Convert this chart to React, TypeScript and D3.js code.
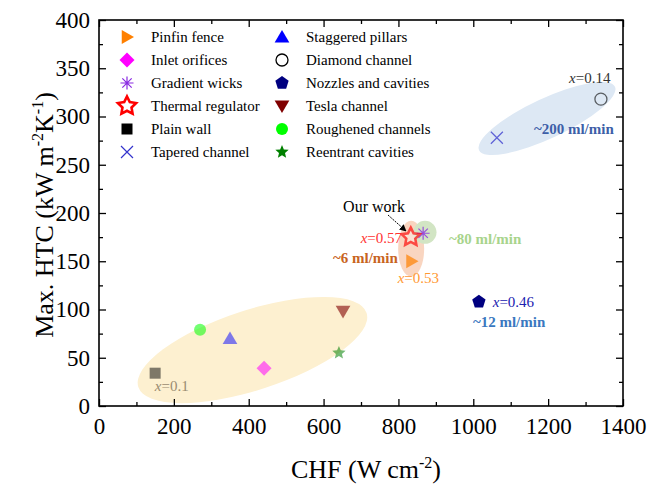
import React, { useRef, useEffect } from 'react';
import * as d3 from 'd3';

// series, in legend order (column 1 then column 2)
const seriesNames = [
  'Pinfin fence', 'Inlet orifices', 'Gradient wicks', 'Thermal regulator', 'Plain wall', 'Tapered channel',
  'Staggered pillars', 'Diamond channel', 'Nozzles and cavities', 'Tesla channel', 'Roughened channels', 'Reentrant cavities',
];
const chfValues = [835, 441, 866, 833, 150, 1063, 350, 1341, 1015, 652, 270, 641];
const htcValues = [150, 39, 179, 175, 34, 278, 70, 318, 108, 98, 79, 55];

const xTicks = [0, 200, 400, 600, 800, 1000, 1200, 1400];
const yTicks = [0, 50, 100, 150, 200, 250, 300, 350, 400];

// group shading (centre in data units)
const groupCx = [410, 1197, 834, 871];
const groupCy = [58, 298, 163, 180];

// annotation texts, anchor in data units (left edge, baseline)
const noteTexts = ['x=0.57', '~6 ml/min', 'x=0.53', '~80 ml/min', 'x=0.14', '~200 ml/min', 'x=0.46', '~12 ml/min', 'x=0.1'];
const noteX = [699, 625, 798, 935, 1256, 1162, 1052, 999, 149];
const noteY = [169, 148, 127, 168, 335, 282, 103, 82, 16];

const markerStyle = {
  'Pinfin fence': { type: 'triRight', color: '#ff8000', s: 7, op: 0.7 },
  'Inlet orifices': { type: 'diamond', color: '#ff00ff', s: 7.5, op: 0.55 },
  'Gradient wicks': { type: 'asterisk', color: '#8a2be2', s: 6.5, op: 0.8 },
  'Thermal regulator': { type: 'starOpen', color: '#ff0000', s: 9.5, op: 0.65 },
  'Plain wall': { type: 'square', color: '#000000', s: 5.5, op: 0.5 },
  'Tapered channel': { type: 'cross', color: '#3333cc', s: 6, op: 0.75 },
  'Staggered pillars': { type: 'triUp', color: '#0000ff', s: 7, op: 0.5 },
  'Diamond channel': { type: 'circleOpen', color: '#000000', s: 6, op: 0.6 },
  'Nozzles and cavities': { type: 'pentagon', color: '#000080', s: 7, op: 1 },
  'Tesla channel': { type: 'triDown', color: '#800000', s: 7, op: 0.6 },
  'Roughened channels': { type: 'circle', color: '#00ff00', s: 6, op: 0.55 },
  'Reentrant cavities': { type: 'star', color: '#008000', s: 7, op: 0.55 },
};
const groupStyle = [
  { rx: 120, ry: 40, angle: -18, fill: '#fdf0d0' },
  { rx: 75, ry: 20, angle: -25, fill: '#dde8f4' },
  { rx: 13, ry: 28, angle: 0, fill: '#f9d5c0' },
  { rx: 11.5, ry: 11.5, angle: 0, fill: '#d2e5c4' },
];
const noteColors = ['#ff3333', '#c8641e', '#ff9933', '#a8d48c', '#333333', '#3d5fa8', '#2020b0', '#3a78c0', '#9a8c70'];
const noteBold = [false, true, false, true, false, true, false, true, false];

const W = 649, H = 486;
const font = '"Liberation Serif", "Times New Roman", serif';

function polyPath(n, r, inner) {
  const pts = [];
  const k = inner ? n * 2 : n;
  for (let i = 0; i < k; i++) {
    const a = -Math.PI / 2 + (i * 2 * Math.PI) / k;
    const rr = inner && i % 2 === 1 ? r * inner : r;
    pts.push([rr * Math.cos(a), rr * Math.sin(a)]);
  }
  return 'M' + pts.map(p => p[0].toFixed(2) + ',' + p[1].toFixed(2)).join('L') + 'Z';
}

function markerPath(type, s) {
  switch (type) {
    case 'triRight': return `M${-0.75 * s},${-s}L${s},0L${-0.75 * s},${s}Z`;
    case 'triUp': return `M0,${-s}L${s * 1.05},${s * 0.8}L${-s * 1.05},${s * 0.8}Z`;
    case 'triDown': return `M0,${s}L${s * 1.05},${-s * 0.8}L${-s * 1.05},${-s * 0.8}Z`;
    case 'diamond': return `M0,${-s}L${s},0L0,${s}L${-s},0Z`;
    case 'square': return `M${-s},${-s}h${2 * s}v${2 * s}h${-2 * s}Z`;
    case 'pentagon': return polyPath(5, s, 0);
    case 'star': return polyPath(5, s, 0.45);
    case 'starOpen': return polyPath(5, s, 0.5);
    case 'asterisk': {
      const d = s * 0.72;
      return `M0,${-s}V${s}M${-s},0H${s}M${-d},${-d}L${d},${d}M${-d},${d}L${d},${-d}`;
    }
    case 'cross': return `M${-s},${-s}L${s},${s}M${-s},${s}L${s},${-s}`;
    default: return `M${s},0A${s},${s} 0 1 1 ${-s},0A${s},${s} 0 1 1 ${s},0Z`;
  }
}

function drawMarker(g, name, x, y, inPlot) {
  const st = markerStyle[name];
  const p = g.append('path')
    .attr('d', markerPath(st.type, st.s))
    .attr('transform', `translate(${x},${y})`);
  if (st.type === 'asterisk' || st.type === 'cross') {
    p.attr('fill', 'none').attr('stroke', st.color).attr('stroke-width', 1.2);
  } else if (st.type === 'starOpen') {
    p.attr('fill', '#fff').attr('stroke', st.color).attr('stroke-width', 2.6)
      .attr('stroke-linejoin', 'miter');
    if (inPlot) p.attr('fill-opacity', 0.45);
  } else if (st.type === 'circleOpen') {
    p.attr('fill', inPlot ? 'none' : '#fff').attr('stroke', st.color).attr('stroke-width', 1.3);
  } else {
    p.attr('fill', st.color).attr('stroke', 'none');
  }
  if (inPlot) p.attr('opacity', st.op);
}

const App = () => {
  const ref = useRef(null);

  const x = d3.scaleLinear().domain([0, 1400]).range([99, 623]);
  const y = d3.scaleLinear().domain([0, 400]).range([406, 20]);

  useEffect(() => {
    const svg = d3.select(ref.current);
    svg.selectAll('*').remove();

    // shaded groups
    groupCx.forEach((cx, i) => {
      const gs = groupStyle[i];
      svg.append('ellipse')
        .attr('cx', 0).attr('cy', 0).attr('rx', gs.rx).attr('ry', gs.ry)
        .attr('transform', `translate(${x(cx)},${y(groupCy[i])}) rotate(${gs.angle})`)
        .attr('fill', gs.fill);
    });

    // points
    seriesNames.forEach((name, i) => {
      drawMarker(svg, name, x(chfValues[i]), y(htcValues[i]), true);
    });

    // axes (ticks inward on all four sides)
    const bottom = svg.append('g').attr('transform', `translate(0,${y(0)})`)
      .call(d3.axisBottom(x).tickValues(xTicks).tickSize(-7).tickPadding(12).tickFormat(d3.format('d')));
    svg.append('g').attr('transform', `translate(0,${y(0)})`)
      .call(d3.axisBottom(x).tickValues(d3.range(100, 1400, 200)).tickSize(-4).tickFormat(() => ''));
    svg.append('g').attr('transform', `translate(0,${y(400)})`)
      .call(d3.axisTop(x).tickValues(xTicks).tickSize(-7).tickFormat(() => ''));
    svg.append('g').attr('transform', `translate(0,${y(400)})`)
      .call(d3.axisTop(x).tickValues(d3.range(100, 1400, 200)).tickSize(-4).tickFormat(() => ''));
    const left = svg.append('g').attr('transform', `translate(${x(0)},0)`)
      .call(d3.axisLeft(y).tickValues(yTicks).tickSize(-7).tickPadding(9).tickFormat(d3.format('d')));
    svg.append('g').attr('transform', `translate(${x(0)},0)`)
      .call(d3.axisLeft(y).tickValues(d3.range(25, 400, 50)).tickSize(-4).tickFormat(() => ''));
    svg.append('g').attr('transform', `translate(${x(1400)},0)`)
      .call(d3.axisRight(y).tickValues(yTicks).tickSize(-7).tickFormat(() => ''));
    svg.append('g').attr('transform', `translate(${x(1400)},0)`)
      .call(d3.axisRight(y).tickValues(d3.range(25, 400, 50)).tickSize(-4).tickFormat(() => ''));
    svg.selectAll('.domain').remove();
    svg.selectAll('.tick line').attr('stroke', '#000').attr('stroke-width', 1.3);
    bottom.selectAll('text').attr('font-size', 23).attr('font-family', font).attr('fill', '#000');
    left.selectAll('text').attr('font-size', 23).attr('font-family', font).attr('fill', '#000');

    svg.append('rect')
      .attr('x', x(0)).attr('y', y(400))
      .attr('width', x(1400) - x(0)).attr('height', y(0) - y(400))
      .attr('fill', 'none').attr('stroke', '#000').attr('stroke-width', 1.6);

    // annotations
    noteTexts.forEach((t, i) => {
      const tx = svg.append('text')
        .attr('x', x(noteX[i])).attr('y', y(noteY[i]))
        .attr('font-family', font).attr('font-size', 15)
        .attr('font-weight', noteBold[i] ? 'bold' : 'normal')
        .attr('fill', noteColors[i]);
      if (t.startsWith('x=')) {
        tx.append('tspan').attr('font-style', 'italic').text('x');
        tx.append('tspan').text(t.slice(1));
      } else {
        tx.text(t);
      }
    });

    svg.append('text')
      .attr('x', 374).attr('y', 212).attr('text-anchor', 'middle')
      .attr('font-family', font).attr('font-size', 16).attr('fill', '#000')
      .text('Our work');
    svg.append('defs').append('marker')
      .attr('id', 'arrowHead').attr('viewBox', '0 0 10 10')
      .attr('refX', 9).attr('refY', 5).attr('markerWidth', 7).attr('markerHeight', 7)
      .attr('orient', 'auto')
      .append('path').attr('d', 'M0,0L10,5L0,10Z').attr('fill', '#000');
    svg.append('line')
      .attr('x1', 388).attr('y1', 215).attr('x2', 406).attr('y2', 231)
      .attr('stroke', '#000').attr('stroke-width', 1).attr('stroke-dasharray', '2,1')
      .attr('marker-end', 'url(#arrowHead)');

    // legend
    const legend = svg.append('g');
    seriesNames.forEach((name, i) => {
      const col = Math.floor(i / 6);
      const row = i % 6;
      const mx = col === 0 ? 127 : 282;
      const my = 37 + row * 23;
      drawMarker(legend, name, mx, my, false);
      legend.append('text')
        .attr('x', col === 0 ? 151 : 306).attr('y', my + 5)
        .attr('font-family', font).attr('font-size', 15).attr('fill', '#000')
        .text(name);
    });

    // axis titles
    const xt = svg.append('text')
      .attr('x', 366).attr('y', 478).attr('text-anchor', 'middle')
      .attr('font-family', font).attr('font-size', 26).attr('fill', '#000');
    xt.append('tspan').text('CHF (W cm');
    xt.append('tspan').attr('font-size', 16).attr('dy', -10).text('-2');
    xt.append('tspan').attr('dy', 10).text(')');

    const yt = svg.append('text')
      .attr('transform', `translate(53,${(y(0) + y(400)) / 2 + 2}) rotate(-90)`)
      .attr('text-anchor', 'middle')
      .attr('font-family', font).attr('font-size', 26).attr('fill', '#000');
    yt.append('tspan').text('Max. HTC (kW m');
    yt.append('tspan').attr('font-size', 16).attr('dy', -10).text('-2');
    yt.append('tspan').attr('dy', 10).text('K');
    yt.append('tspan').attr('font-size', 16).attr('dy', -10).text('-1');
    yt.append('tspan').attr('dy', 10).text(')');
  }, []);

  return (
    <svg ref={ref} width={W} height={H} viewBox={`0 0 ${W} ${H}`}
      style={{ position: 'absolute', left: 0, top: 0, background: '#fff' }} />
  );
};

export default App;
